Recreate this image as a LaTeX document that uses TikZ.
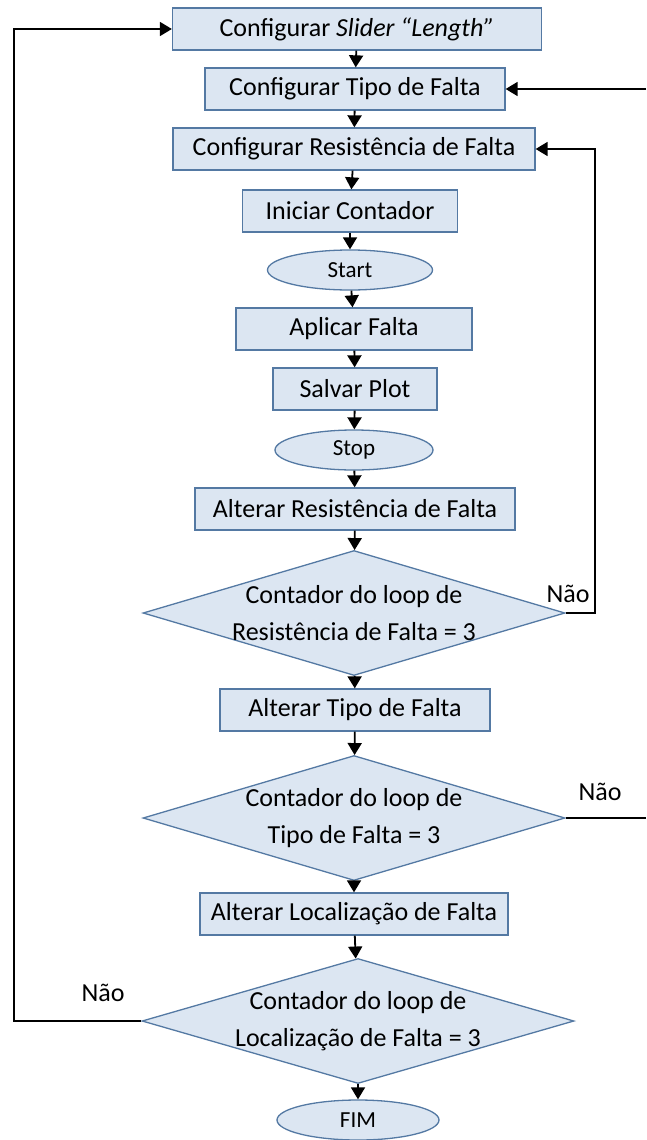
\documentclass[tikz,border=0pt]{standalone}
\usepackage{fontspec}
\setmainfont{Carlito}
\usetikzlibrary{shapes.geometric,arrows.meta}
\definecolor{boxfill}{HTML}{DCE6F2}
\definecolor{boxline}{HTML}{5479A3}
\begin{document}
\begin{tikzpicture}[x=1pt,y=-1pt,
  every node/.style={font=\fontsize{26}{30}\selectfont},
  proc/.style={draw=boxline,fill=boxfill,line width=1.3pt,minimum height=42pt,inner sep=0pt},
  term/.style={ellipse,draw=boxline,fill=boxfill,line width=1.3pt,minimum height=40pt,minimum width=162pt,inner sep=0pt,font=\fontsize{23}{26}\selectfont},
  dec/.style={diamond,draw=boxline,fill=boxfill,line width=1.3pt,inner sep=0pt,minimum width=422pt,minimum height=125pt},
  dectext/.style={align=center,font=\fontsize{26}{37}\selectfont},
  conn/.style={line width=1.8pt,-{Triangle[length=12pt,width=14pt]}},
  plain/.style={line width=1.8pt},
  lbl/.style={font=\fontsize{26}{30}\selectfont}]
\useasboundingbox (0,0) rectangle (646,1140);
\node[proc,minimum width=369pt] (b1) at (357,29) {Configurar \textit{Slider “Length”}};
\node[proc,minimum width=300pt] (b2) at (355,89) {Configurar Tipo de Falta};
\node[proc,minimum width=362pt] (b3) at (354,149) {Configurar Resistência de Falta};
\node[proc,minimum width=215pt] (b4) at (350,211) {Iniciar Contador};
\node[term,minimum width=165pt] (s1) at (350,270) {Start};
\node[proc,minimum width=236pt] (b5) at (354,329) {Aplicar Falta};
\node[proc,minimum width=164pt] (b6) at (355,389) {Salvar Plot};
\node[term,minimum width=158pt] (s2) at (354,450) {Stop};
\node[proc,minimum width=320pt] (b7) at (355,509) {Alterar Resistência de Falta};
\node[dec] (d1) at (354,613) {};
\node[dectext] at (d1.center) {Contador do loop de\\Resistência de Falta = 3};
\node[proc,minimum width=270pt] (b8) at (355,710) {Alterar Tipo de Falta};
\node[dec] (d2) at (354,818) {};
\node[dectext] at (d2.center) {Contador do loop de\\Tipo de Falta = 3};
\node[proc,minimum width=308pt] (b9) at (354,914) {Alterar Localização de Falta};
\node[dec,minimum width=432pt] (d3) at (358,1021) {};
\node[dectext] at (d3.center) {Contador do loop de\\Localização de Falta = 3};
\node[term] (s3) at (358,1120) {FIM};
% labels
\node[lbl] (n1) at (568,594) {Não};
\node[lbl] (n2) at (600,792) {Não};
\node[lbl] (n3) at (103,993) {Não};
% main flow
\draw[conn] (b1) -- (b2);
\draw[conn] (b2) -- (b3);
\draw[conn] (b3) -- (b4);
\draw[conn] (b4) -- (s1);
\draw[conn] (s1) -- (b5);
\draw[conn] (b5) -- (b6);
\draw[conn] (b6) -- (s2);
\draw[conn] (s2) -- (b7);
\draw[conn] (b7) -- (d1);
\draw[conn] (d1) -- (b8);
\draw[conn] (b8) -- (d2);
\draw[conn] (d2) -- (b9);
\draw[conn] (b9) -- (d3);
\draw[conn] (d3) -- (s3);
% loops
\coordinate (r1) at (595,613);
\coordinate (r2) at (646,818);
\coordinate (l3) at (14,1021);
\draw[conn] (d1.east) -- (r1) |- (b3.east);
\draw[plain] (d2.east) -- (r2);
\draw[conn] (646,89) -- (b2.east);
\draw[conn] (d3.west) -- (l3) |- (b1.west);
\end{tikzpicture}
\end{document}
